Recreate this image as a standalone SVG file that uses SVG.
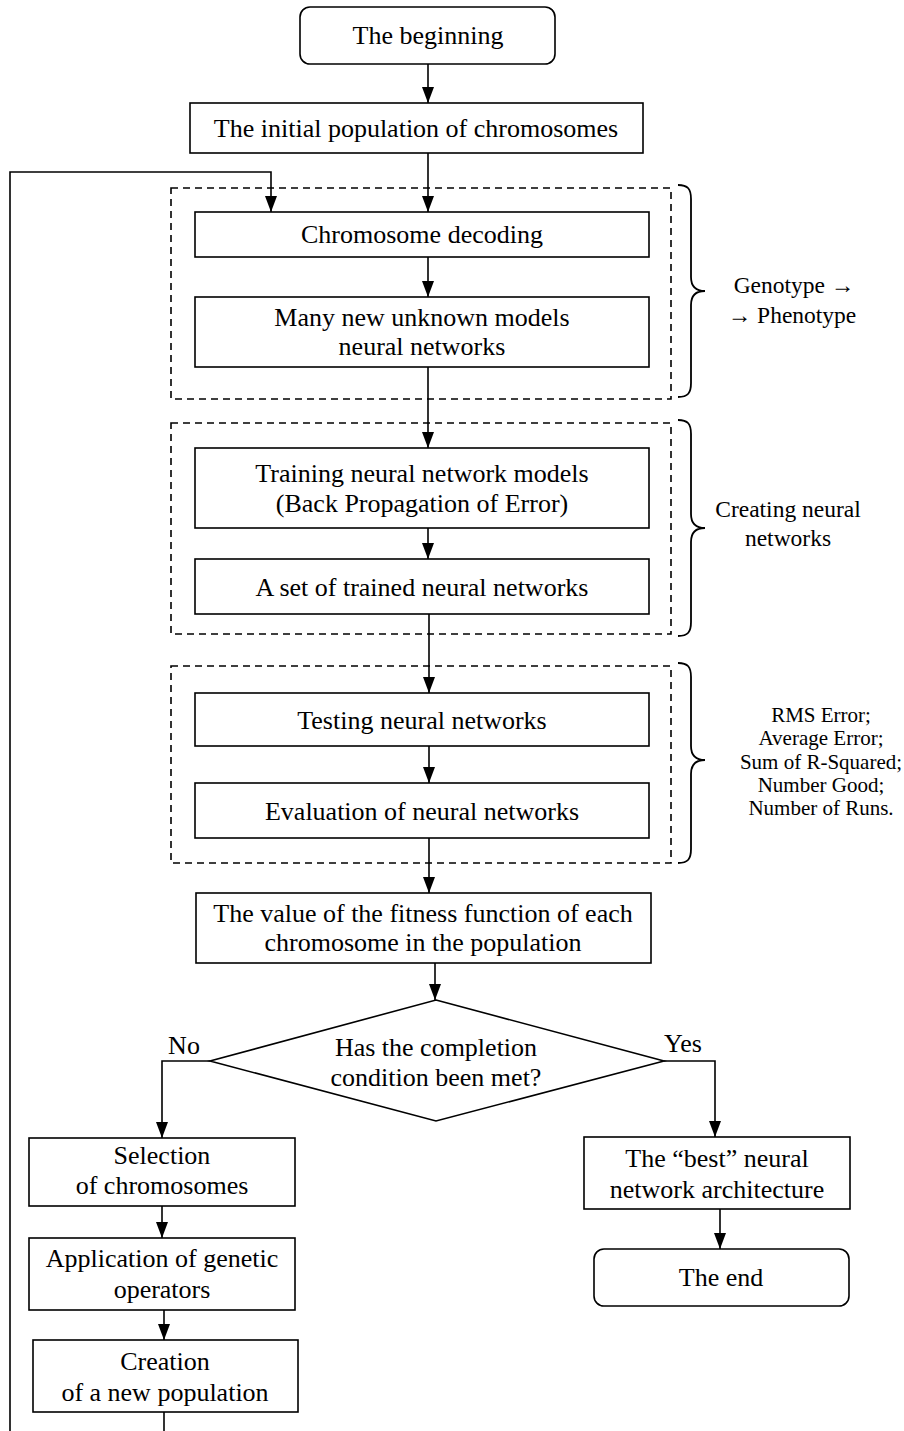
<svg xmlns="http://www.w3.org/2000/svg" width="904" height="1431" viewBox="0 0 904 1431">
<style>
.box{fill:#fff;stroke:#000;stroke-width:1.6}
.dash{fill:none;stroke:#000;stroke-width:1.6;stroke-dasharray:7,5}
.ln{fill:none;stroke:#000;stroke-width:1.6}
.br{fill:none;stroke:#000;stroke-width:1.8}
text{font-family:"Liberation Serif","Times New Roman",serif;font-size:26px;fill:#000;text-anchor:middle}
.side{font-size:23.5px}
.rms{font-size:21px}
</style>
<defs>
<marker id="ad" viewBox="0 0 16 12" refX="16" refY="6" markerWidth="16" markerHeight="12" markerUnits="userSpaceOnUse" orient="auto">
<path d="M0,0 L16,6 L0,12 Z" fill="#000"/>
</marker>
</defs>
<rect width="904" height="1431" fill="#fff"/>

<g id="groups">
<rect class="dash" x="171" y="188" width="500" height="211"/>
<rect class="dash" x="171" y="423" width="500" height="211"/>
<rect class="dash" x="171" y="666" width="500" height="197"/>
<path class="br" d="M678,185 C688,185 691,189 691,199 L691,277 C691,287 696,291 705,291 C696,291 691,295 691,305 L691,383 C691,393 688,397 678,397"/>
<path class="br" d="M678,420 C688,420 691,424 691,434 L691,514 C691,524 696,528 705,528 C696,528 691,532 691,542 L691,622 C691,632 688,636 678,636"/>
<path class="br" d="M678,663 C688,663 691,667 691,677 L691,746 C691,756 696,760 705,760 C696,760 691,764 691,774 L691,849 C691,859 688,863 678,863"/>
<text class="side" x="794" y="293">Genotype →</text>
<text class="side" x="792" y="323">→ Phenotype</text>
<text class="side" x="788" y="517">Creating neural</text>
<text class="side" x="788" y="546">networks</text>
<text class="rms" x="821" y="722">RMS Error;</text>
<text class="rms" x="821" y="745">Average Error;</text>
<text class="rms" x="821" y="769">Sum of R-Squared;</text>
<text class="rms" x="821" y="792">Number Good;</text>
<text class="rms" x="821" y="815">Number of Runs.</text>
</g>

<g id="connectors">
<path class="ln" d="M428,64 V103" marker-end="url(#ad)"/>
<path class="ln" d="M428,153 V212" marker-end="url(#ad)"/>
<path class="ln" d="M10,1431 V172 H271 V212" marker-end="url(#ad)"/>
<path class="ln" d="M428,257 V297" marker-end="url(#ad)"/>
<path class="ln" d="M428,367 V448" marker-end="url(#ad)"/>
<path class="ln" d="M428,528 V559" marker-end="url(#ad)"/>
<path class="ln" d="M429,614 V693" marker-end="url(#ad)"/>
<path class="ln" d="M429,746 V783" marker-end="url(#ad)"/>
<path class="ln" d="M429,838 V893" marker-end="url(#ad)"/>
<path class="ln" d="M435,963 V1000" marker-end="url(#ad)"/>
<path class="ln" d="M210,1061 H162 V1138" marker-end="url(#ad)"/>
<path class="ln" d="M664,1061 H715 V1137" marker-end="url(#ad)"/>
<path class="ln" d="M162,1206 V1238" marker-end="url(#ad)"/>
<path class="ln" d="M164,1310 V1340" marker-end="url(#ad)"/>
<path class="ln" d="M164,1412 V1431"/>
<path class="ln" d="M720,1209 V1249" marker-end="url(#ad)"/>
<text x="184" y="1054">No</text>
<text x="683" y="1052">Yes</text>
</g>

<g id="n-begin">
<rect class="box" x="300" y="7" width="255" height="57" rx="10"/>
<text x="428" y="44">The beginning</text>
</g>
<g id="n-init">
<rect class="box" x="190" y="103" width="453" height="50"/>
<text x="416" y="137">The initial population of chromosomes</text>
</g>
<g id="n-decode">
<rect class="box" x="195" y="212" width="454" height="45"/>
<text x="422" y="243">Chromosome decoding</text>
</g>
<g id="n-many">
<rect class="box" x="195" y="297" width="454" height="70"/>
<text x="422" y="326">Many new unknown models</text>
<text x="422" y="355">neural networks</text>
</g>
<g id="n-train">
<rect class="box" x="195" y="448" width="454" height="80"/>
<text x="422" y="482">Training neural network models</text>
<text x="422" y="512">(Back Propagation of Error)</text>
</g>
<g id="n-set">
<rect class="box" x="195" y="559" width="454" height="55"/>
<text x="422" y="596">A set of trained neural networks</text>
</g>
<g id="n-test">
<rect class="box" x="195" y="693" width="454" height="53"/>
<text x="422" y="729">Testing neural networks</text>
</g>
<g id="n-eval">
<rect class="box" x="195" y="783" width="454" height="55"/>
<text x="422" y="820">Evaluation of neural networks</text>
</g>
<g id="n-fitness">
<rect class="box" x="196" y="893" width="455" height="70"/>
<text x="423" y="922">The value of the fitness function of each</text>
<text x="423" y="951">chromosome in the population</text>
</g>
<g id="n-cond">
<polygon class="box" points="436,1000 664,1061 436,1121 210,1061"/>
<text x="436" y="1056">Has the completion</text>
<text x="436" y="1086">condition been met?</text>
</g>
<g id="n-select">
<rect class="box" x="29" y="1138" width="266" height="68"/>
<text x="162" y="1164">Selection</text>
<text x="162" y="1194">of chromosomes</text>
</g>
<g id="n-apply">
<rect class="box" x="29" y="1238" width="266" height="72"/>
<text x="162" y="1267">Application of genetic</text>
<text x="162" y="1298">operators</text>
</g>
<g id="n-create">
<rect class="box" x="33" y="1340" width="265" height="72"/>
<text x="165" y="1370">Creation</text>
<text x="165" y="1401">of a new population</text>
</g>
<g id="n-best">
<rect class="box" x="584" y="1137" width="266" height="72"/>
<text x="717" y="1167">The “best” neural</text>
<text x="717" y="1198">network architecture</text>
</g>
<g id="n-end">
<rect class="box" x="594" y="1249" width="255" height="57" rx="10"/>
<text x="721" y="1286">The end</text>
</g>
</svg>
